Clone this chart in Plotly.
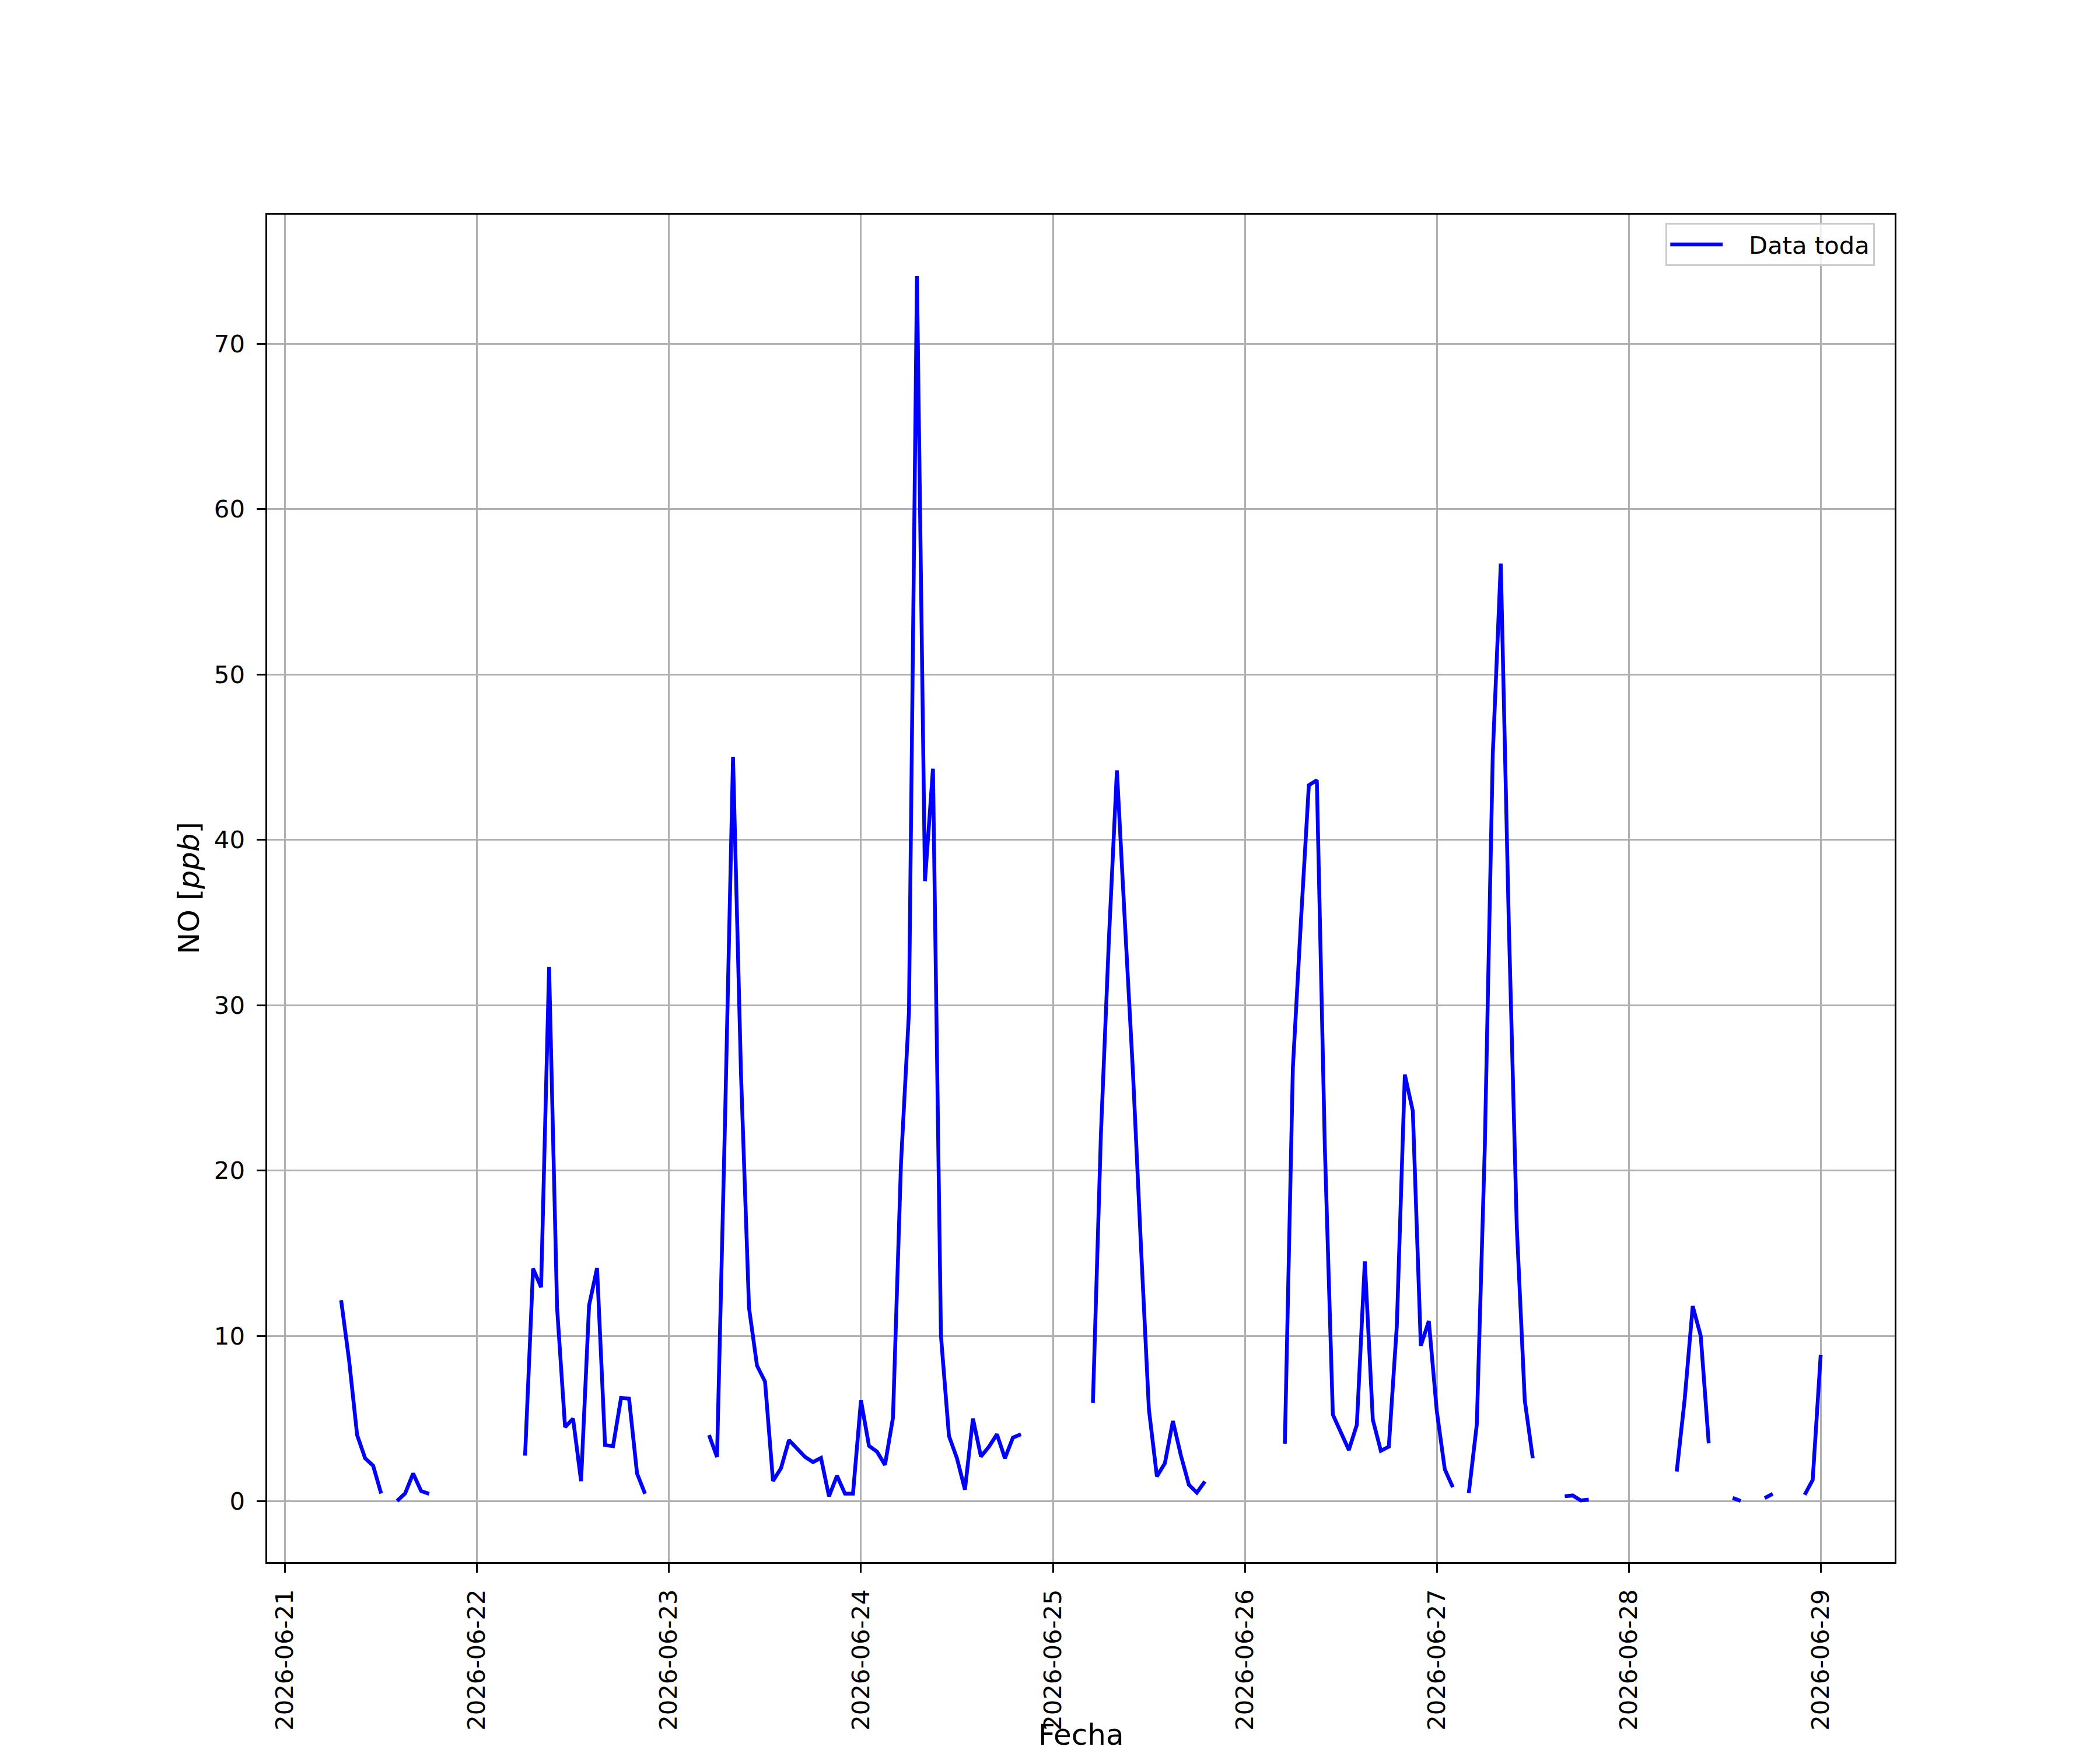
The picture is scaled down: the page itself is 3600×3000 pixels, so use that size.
import pandas as pd
import plotly.graph_objects as go

# hourly NO values [ppb], one list per day (hours 0..23), None = no data
no_21 = [None, None, None, None, None, None, None, 12.15, 8.5, 4.0, 2.6, 2.15,
         0.47, None, 0.02, 0.47, 1.68, 0.62, 0.45, None, None, None, None, None]
no_22 = [None, None, None, None, None, None, 2.76, 14.07, 12.94, 32.3, 11.7, 4.48,
         4.99, 1.22, 11.84, 14.1, 3.4, 3.33, 6.25, 6.2, 1.68, 0.45, None, None]
no_23 = [None, None, None, None, None, 4.0, 2.68, 23.0, 45.0, 25.8, 11.7, 8.2,
         7.24, 1.23, 2.0, 3.7, 3.17, 2.68, 2.37, 2.62, 0.3, 1.54, 0.46, 0.46]
no_24 = [6.1, 3.35, 3.0, 2.2, 5.05, 20.4, 29.6, 74.1, 37.5, 44.3, 10.0, 3.95,
         2.6, 0.7, 5.0, 2.7, 3.3, 4.05, 2.6, 3.85, 4.05, None, None, None]
no_25 = [None, None, None, None, None, 5.95, 22.2, 34.0, 44.2, 35.0, 26.0, 15.5,
         5.55, 1.5, 2.3, 4.85, 2.77, 1.0, 0.52, 1.2, None, None, None, None]
no_26 = [None, None, None, None, None, 3.48, 26.2, 35.0, 43.3, 43.6, 21.4, 5.24,
         4.2, 3.1, 4.62, 14.5, 4.93, 3.05, 3.3, 10.6, 25.8, 23.6, 9.4, 10.9]
no_27 = [5.45, 1.93, 0.85, None, 0.5, 4.64, 21.4, 45.2, 56.7, 35.0, 16.6, 6.1,
         2.6, None, None, None, 0.3, 0.35, 0.05, 0.1, None, None, None, None]
no_28 = [None, None, None, None, None, None, 1.8, 6.2, 11.8, 10.0, 3.5, None,
         None, 0.2, 0.02, None, None, 0.19, 0.45, None, None, None, 0.39, 1.29]
no_29 = [8.85]

values = no_21 + no_22 + no_23 + no_24 + no_25 + no_26 + no_27 + no_28 + no_29
fechas = pd.date_range("2026-06-21 00:00", periods=len(values), freq="h")
df = pd.DataFrame({"fecha": fechas, "no": values})
df["no"] = pd.to_numeric(df["no"])

# matplotlib-like 5% autoscale margins
valid = df.dropna()
t0, t1 = valid["fecha"].min(), valid["fecha"].max()
v0, v1 = valid["no"].min(), valid["no"].max()
x_range = [t0 - 0.05 * (t1 - t0), t1 + 0.05 * (t1 - t0)]
y_range = [v0 - 0.05 * (v1 - v0), v1 + 0.05 * (v1 - v0)]

font = "DejaVu Sans"

fig = go.Figure()
fig.add_trace(go.Scatter(x=df["fecha"], y=df["no"], mode="lines",
                         name="&nbsp;&nbsp;&nbsp;Data toda", connectgaps=False,
                         line=dict(color="#0000ff", width=6.5)))

axis_common = dict(showline=True, mirror=True, linecolor="black", linewidth=3.3,
                   showgrid=True, gridcolor="#b0b0b0", gridwidth=3.3,
                   zeroline=False, ticks="outside", ticklen=14.6, tickwidth=3.3,
                   tickcolor="black", ticklabelstandoff=12,
                   tickfont=dict(family=font, size=41.7, color="black"))

fig.update_layout(
    width=3600, height=3000,
    margin=dict(l=450, r=360, t=360, b=330),
    paper_bgcolor="white", plot_bgcolor="white",
    font=dict(family=font, color="black"),
    xaxis=dict(range=x_range, type="date", tick0="2026-06-21", dtick=86400000,
               tickformat="%Y-%m-%d", tickangle=-90, automargin=False, **axis_common),
    yaxis=dict(range=y_range, tick0=0, dtick=10, automargin=False, **axis_common),
    showlegend=True,
    legend=dict(x=1 - 34 / 2790, y=1 - 14 / 2310, xanchor="right", yanchor="top",
                bgcolor="rgba(255,255,255,0.8)", bordercolor="#cccccc", borderwidth=3.3,
                font=dict(family=font, size=41.7, color="black"), itemwidth=90),
    annotations=[
        dict(text="Fecha", x=0.5, y=0, xref="paper", yref="paper",
             xanchor="center", yanchor="bottom", yshift=-327, showarrow=False,
             font=dict(family=font, size=50, color="black")),
        dict(text="NO [<i>ppb</i>]", x=0, y=0.5, xref="paper", yref="paper",
             xanchor="center", yanchor="middle", xshift=-134, textangle=-90,
             showarrow=False, font=dict(family=font, size=50, color="black")),
    ],
)

fig.write_html("out.html")
